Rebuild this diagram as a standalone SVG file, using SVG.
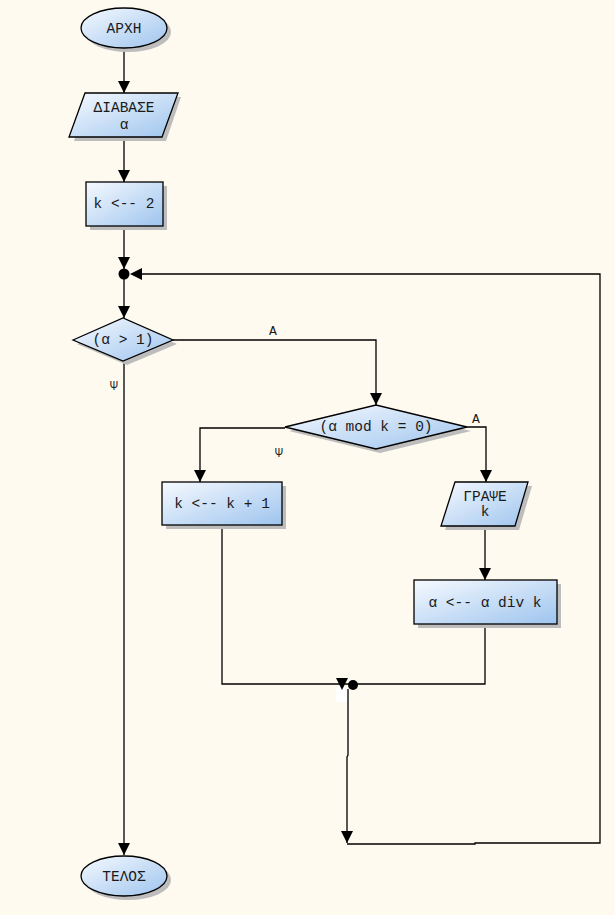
<svg xmlns="http://www.w3.org/2000/svg" width="615" height="915" viewBox="0 0 615 915">
<defs>
<linearGradient id="fill" x1="0" y1="0" x2="1" y2="1">
<stop offset="0" stop-color="#F6FAFF"/>
<stop offset="1" stop-color="#9EC4EE"/>
</linearGradient>
<marker id="arr" viewBox="0 0 12 12" refX="12" refY="6" markerWidth="12" markerHeight="12" markerUnits="userSpaceOnUse" orient="auto">
<path d="M0,0 L12,6 L0,12 z" fill="#000"/>
</marker>
</defs>
<style>
.bg{fill:#FFFAEF}
.shape{fill:url(#fill);stroke:#000;stroke-width:1.3}
.shadow{fill:#BDBDBD;stroke:none}
.t{font-family:"Liberation Mono","Courier New",monospace;font-size:14.5px;fill:#1a1a1a;text-anchor:middle;dominant-baseline:central}
.lbl{font-family:"Liberation Mono","Courier New",monospace;font-size:13px;fill:#1a1a1a;text-anchor:middle;dominant-baseline:central}
.c{fill:none;stroke:#000;stroke-width:1.3}
.ca{fill:none;stroke:#000;stroke-width:1.3;marker-end:url(#arr)}
</style>
<rect class="bg" x="0" y="0" width="615" height="915"/>

<g id="connectors">
<path class="ca" d="M124,48 L124,93"/>
<path class="ca" d="M124,137 L124,182"/>
<path class="ca" d="M124,226 L124,269"/>
<path class="ca" d="M124,279 L124,318"/>
<path class="ca" d="M173,340 L376,340 L376,405"/>
<path class="ca" d="M124,361 L124,855"/>
<path class="ca" d="M285,428 L200,428 L200,482"/>
<path class="ca" d="M467,427 L486,427 L486,482"/>
<path class="ca" d="M485,526 L485,580"/>
<path class="c" d="M222,525 L222,684 L350,684"/>
<path class="c" d="M485,624 L485,684 L356,684"/>
<rect x="336" y="687" width="11" height="15" fill="#FFFFFF"/>
<path d="M336,678 L348,678 L342,690 z" fill="#000"/>
<circle cx="353" cy="685" r="5" fill="#000"/>
<path class="ca" d="M348,689 L348,755 L347,757 L347,843"/>
<path class="c" d="M347,844 L475,844 L475,843 L600,843 L600,274 L142,274"/>
<path d="M142,268 L142,280 L130,274 z" fill="#000"/>
<circle cx="124" cy="274" r="5.5" fill="#000"/>
<text class="lbl" x="273" y="331">Α</text>
<text class="lbl" x="114" y="386">Ψ</text>
<text class="lbl" x="279" y="453">Ψ</text>
<text class="lbl" x="476" y="419">Α</text>
</g>

<g id="start">
<ellipse class="shadow" cx="128" cy="32" rx="43" ry="20"/>
<ellipse class="shape" cx="124" cy="28" rx="43" ry="20"/>
<text class="t" x="124" y="29">ΑΡΧΗ</text>
</g>

<g id="read">
<polygon class="shadow" points="89,97 181,97 166,141 74,141"/>
<polygon class="shape" points="85,93 178,93 162,137 69,137"/>
<text class="t" x="124" y="108">ΔΙΑΒΑΣΕ</text>
<text class="t" x="124" y="125">α</text>
</g>

<g id="init">
<rect class="shadow" x="90" y="186" width="77" height="44"/>
<rect class="shape" x="86" y="182" width="77" height="44"/>
<text class="t" x="124" y="204">k &lt;-- 2</text>
</g>

<g id="cond1">
<polygon class="shadow" points="77,344 127,322 177,344 127,365"/>
<polygon class="shape" points="73,340 123,318 173,340 123,361"/>
<text class="t" x="123" y="340">(α &gt; 1)</text>
</g>

<g id="cond2">
<polygon class="shadow" points="289,431 380,409 471,431 380,453"/>
<polygon class="shape" points="285,427 376,405 467,427 376,449"/>
<text class="t" x="376" y="427">(α mod k = 0)</text>
</g>

<g id="inc">
<rect class="shadow" x="166" y="486" width="120" height="43"/>
<rect class="shape" x="162" y="482" width="120" height="43"/>
<text class="t" x="222" y="504">k &lt;-- k + 1</text>
</g>

<g id="write">
<polygon class="shadow" points="459,486 532,486 519,530 445,530"/>
<polygon class="shape" points="455,482 528,482 515,526 441,526"/>
<text class="t" x="485" y="497">ΓΡΑΨΕ</text>
<text class="t" x="485" y="512">k</text>
</g>

<g id="div">
<rect class="shadow" x="418" y="584" width="143" height="44"/>
<rect class="shape" x="414" y="580" width="143" height="44"/>
<text class="t" x="485" y="603">α &lt;-- α div k</text>
</g>

<g id="end">
<ellipse class="shadow" cx="128" cy="880" rx="43" ry="20"/>
<ellipse class="shape" cx="124" cy="876" rx="43" ry="20"/>
<text class="t" x="124" y="877">ΤΕΛΟΣ</text>
</g>
</svg>
